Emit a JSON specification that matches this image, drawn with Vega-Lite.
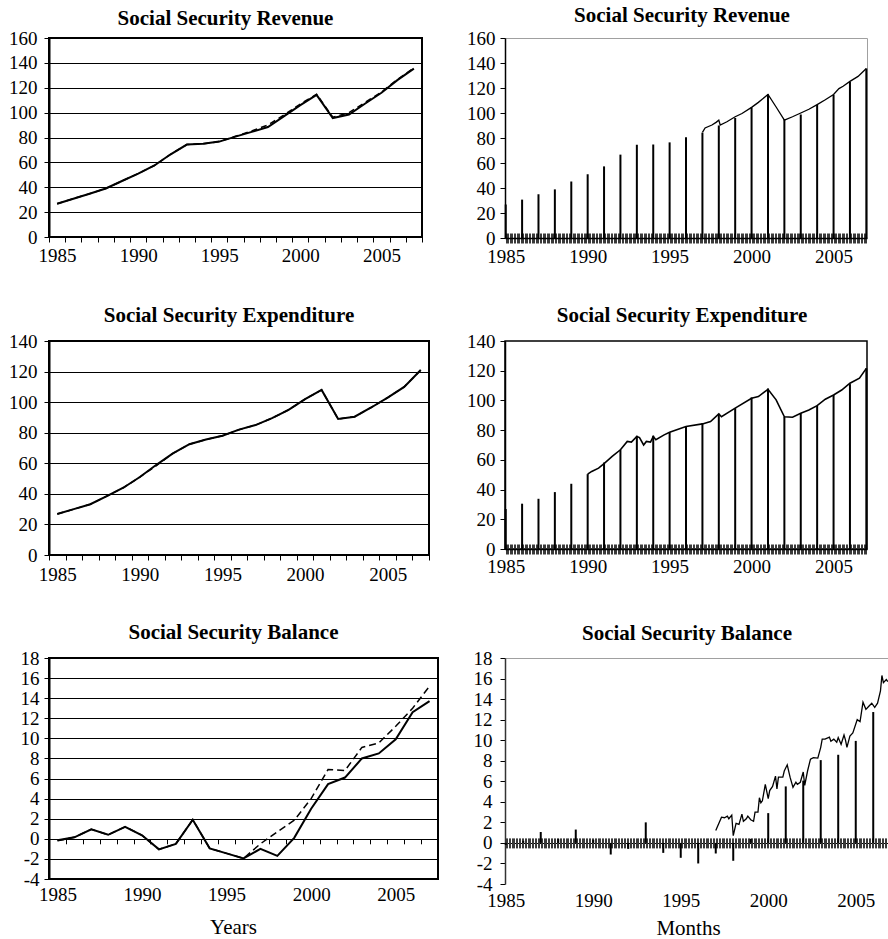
{
 "$schema": "https://vega.github.io/schema/vega-lite/v6.json",
 "padding": {"left": 4, "top": 4, "right": 0, "bottom": 0},
 "background": "white",
 "datasets": {
  "L1": [
   {"yr":1985,"s":26.7,"d":26.7},{"yr":1986,"s":30.8,"d":30.8},{"yr":1987,"s":34.8,"d":34.8},{"yr":1988,"s":39,"d":39},
   {"yr":1989,"s":45,"d":45},{"yr":1990,"s":51,"d":51},{"yr":1991,"s":57.5,"d":57.5},{"yr":1992,"s":66.5,"d":66.5},
   {"yr":1993,"s":74.3,"d":74.3},{"yr":1994,"s":75,"d":75},{"yr":1995,"s":76.7,"d":76.7},{"yr":1996,"s":80.7,"d":81},
   {"yr":1997,"s":84.5,"d":85.3},{"yr":1998,"s":88.4,"d":90},{"yr":1999,"s":97.2,"d":98.2},{"yr":2000,"s":106,"d":107},
   {"yr":2001,"s":114.3,"d":114.8},{"yr":2002,"s":95.6,"d":96.3},{"yr":2003,"s":98.5,"d":100},{"yr":2004,"s":107.3,"d":108.3},
   {"yr":2005,"s":116,"d":116.6},{"yr":2006,"s":126.3,"d":126.8},{"yr":2007,"s":135.4,"d":136}
  ],
  "L2": [
   {"yr":1985,"s":26.8,"d":26.8},{"yr":1986,"s":30,"d":30},{"yr":1987,"s":33.2,"d":33.2},{"yr":1988,"s":38.5,"d":38.5},
   {"yr":1989,"s":44,"d":44},{"yr":1990,"s":51,"d":51},{"yr":1991,"s":59,"d":58.5},{"yr":1992,"s":66.5,"d":66.5},
   {"yr":1993,"s":72.5,"d":72.5},{"yr":1994,"s":75.5,"d":75.5},{"yr":1995,"s":78,"d":78},{"yr":1996,"s":82,"d":82},
   {"yr":1997,"s":85,"d":85},{"yr":1998,"s":89.5,"d":89.5},{"yr":1999,"s":95,"d":95},{"yr":2000,"s":102,"d":102},
   {"yr":2001,"s":108,"d":108},{"yr":2002,"s":89,"d":89},{"yr":2003,"s":90.5,"d":90.5},{"yr":2004,"s":96.5,"d":96.5},
   {"yr":2005,"s":103,"d":103},{"yr":2006,"s":110,"d":110},{"yr":2007,"s":121,"d":121}
  ],
  "L3": [
   {"yr":1985,"s":-0.15,"d":-0.2},{"yr":1986,"s":0.15,"d":0.15},{"yr":1987,"s":0.95,"d":0.95},{"yr":1988,"s":0.4,"d":0.4},
   {"yr":1989,"s":1.2,"d":1.2},{"yr":1990,"s":0.35,"d":0.35},{"yr":1991,"s":-1.05,"d":-1.05},{"yr":1992,"s":-0.5,"d":-0.5},
   {"yr":1993,"s":1.9,"d":1.9},{"yr":1994,"s":-0.95,"d":-0.95},{"yr":1995,"s":-1.45,"d":-1.45},{"yr":1996,"s":-1.95,"d":-1.95},
   {"yr":1997,"s":-1.0,"d":-0.5},{"yr":1998,"s":-1.7,"d":0.7},{"yr":1999,"s":0.1,"d":1.85},{"yr":2000,"s":3.0,"d":4.0},
   {"yr":2001,"s":5.45,"d":6.9},{"yr":2002,"s":6.1,"d":6.8},{"yr":2003,"s":8.0,"d":9.1},{"yr":2004,"s":8.5,"d":9.55},
   {"yr":2005,"s":9.9,"d":11.2},{"yr":2006,"s":12.6,"d":13.0},{"yr":2007,"s":13.7,"d":15.2}
  ],
  "R1s": [
   {"t":"1985-01-01","v":26.8},{"t":"1986-01-01","v":30.7},{"t":"1987-01-01","v":35},{"t":"1988-01-01","v":38.9},
   {"t":"1989-01-01","v":45.2},{"t":"1990-01-01","v":51},{"t":"1991-01-01","v":57.3},{"t":"1992-01-01","v":66.7},
   {"t":"1993-01-01","v":74.6},{"t":"1994-01-01","v":74.8},{"t":"1995-01-01","v":76.5},{"t":"1996-01-01","v":80.7},
   {"t":"1997-01-01","v":84.3},{"t":"1998-01-01","v":90},{"t":"1999-01-01","v":96},{"t":"2000-01-01","v":104.5},
   {"t":"2001-01-01","v":115},{"t":"2002-01-01","v":95},{"t":"2003-01-01","v":98.8},{"t":"2004-01-01","v":106.7},
   {"t":"2005-01-01","v":114.6},{"t":"2006-01-01","v":125},{"t":"2007-01-01","v":135.6}
  ],
  "R1l": [
   {"t":"1997-01-01","v":84.5},{"t":"1997-03-01","v":88},{"t":"1997-08-01","v":90.4},{"t":"1997-11-01","v":92.5},
   {"t":"1998-01-01","v":94.3},{"t":"1998-02-01","v":90.4},{"t":"1998-07-01","v":93},{"t":"1999-01-01","v":97},
   {"t":"1999-06-01","v":99.6},{"t":"2000-01-01","v":104.5},{"t":"2000-06-01","v":108.5},{"t":"2001-01-01","v":114.8},
   {"t":"2001-07-01","v":104.8},{"t":"2002-01-01","v":94.3},{"t":"2002-07-01","v":97},{"t":"2003-01-01","v":100},
   {"t":"2003-07-01","v":103},{"t":"2004-01-01","v":106.7},{"t":"2004-07-01","v":110.6},{"t":"2005-01-01","v":114.8},
   {"t":"2005-05-01","v":119.5},{"t":"2005-08-01","v":121.4},{"t":"2006-01-01","v":125.3},{"t":"2006-07-01","v":129.3},
   {"t":"2007-01-01","v":135.6}
  ],
  "R2s": [
   {"t":"1985-01-01","v":26.9},{"t":"1986-01-01","v":30.5},{"t":"1987-01-01","v":33.8},{"t":"1988-01-01","v":38.3},
   {"t":"1989-01-01","v":43.9},{"t":"1990-01-01","v":50.4},{"t":"1991-01-01","v":58.2},{"t":"1992-01-01","v":66.8},
   {"t":"1993-01-01","v":76.2},{"t":"1994-01-01","v":76.2},{"t":"1995-01-01","v":78.6},{"t":"1996-01-01","v":82.4},
   {"t":"1997-01-01","v":84.7},{"t":"1998-01-01","v":91},{"t":"1999-01-01","v":94.8},{"t":"2000-01-01","v":102},
   {"t":"2001-01-01","v":108},{"t":"2002-01-01","v":89},{"t":"2003-01-01","v":91.4},{"t":"2004-01-01","v":96.5},
   {"t":"2005-01-01","v":103.7},{"t":"2006-01-01","v":111},{"t":"2007-01-01","v":121.6}
  ],
  "R2l": [
   {"t":"1990-01-01","v":50.4},{"t":"1990-04-01","v":52.2},{"t":"1990-09-01","v":54.4},{"t":"1991-01-01","v":57.5},
   {"t":"1991-07-01","v":62.3},{"t":"1992-01-01","v":66.8},{"t":"1992-06-01","v":72.4},{"t":"1992-09-01","v":72},
   {"t":"1993-01-01","v":75.7},{"t":"1993-03-01","v":75},{"t":"1993-06-01","v":70},{"t":"1993-08-01","v":72.4},
   {"t":"1993-11-01","v":72},{"t":"1994-01-01","v":75.7},{"t":"1994-03-01","v":73.5},{"t":"1994-09-01","v":76.8},
   {"t":"1995-01-01","v":78.6},{"t":"1996-01-01","v":82.4},{"t":"1997-01-01","v":84.2},{"t":"1997-07-01","v":85.8},
   {"t":"1998-01-01","v":91},{"t":"1998-03-01","v":89},{"t":"1999-01-01","v":94.8},{"t":"2000-01-01","v":101.5},
   {"t":"2000-06-01","v":102.6},{"t":"2001-01-01","v":107.5},{"t":"2001-07-01","v":100.4},{"t":"2002-01-01","v":89},
   {"t":"2002-07-01","v":88.7},{"t":"2003-01-01","v":91.4},{"t":"2003-07-01","v":93.6},{"t":"2004-01-01","v":96.5},
   {"t":"2004-07-01","v":100.8},{"t":"2005-01-01","v":103.7},{"t":"2005-07-01","v":107},{"t":"2006-01-01","v":111.6},
   {"t":"2006-08-01","v":115},{"t":"2007-01-01","v":121.6}
  ],
  "R3s": [
   {"t":"1985-01-01","v":-0.2},{"t":"1986-01-01","v":0.2},{"t":"1987-01-01","v":1.06},{"t":"1988-01-01","v":0.4},
   {"t":"1989-01-01","v":1.3},{"t":"1990-01-01","v":0.3},{"t":"1991-01-01","v":-1.13},{"t":"1992-01-01","v":-0.58},
   {"t":"1993-01-01","v":2.0},{"t":"1994-01-01","v":-0.97},{"t":"1995-01-01","v":-1.45},{"t":"1996-01-01","v":-2.0},
   {"t":"1997-01-01","v":-1.03},{"t":"1998-01-01","v":-1.74},{"t":"1999-01-01","v":0.4},{"t":"2000-01-01","v":2.9},
   {"t":"2001-01-01","v":5.5},{"t":"2002-01-01","v":6.06},{"t":"2003-01-01","v":8.06},{"t":"2004-01-01","v":8.58},
   {"t":"2005-01-01","v":9.93},{"t":"2006-01-01","v":12.74}
  ],
  "R3l": [
   {"t":"1997-01-01","v":1.2},{"t":"1997-05-01","v":2.5},{"t":"1997-07-01","v":2.45},{"t":"1997-09-01","v":2.6},
   {"t":"1997-10-01","v":2.35},{"t":"1997-12-01","v":2.7},{"t":"1998-01-01","v":0.7},{"t":"1998-03-01","v":1.9},
   {"t":"1998-05-01","v":1.8},{"t":"1998-07-01","v":2.8},{"t":"1998-08-01","v":2.1},{"t":"1998-10-01","v":2.35},
   {"t":"1998-11-01","v":2.6},{"t":"1999-01-01","v":2.26},{"t":"1999-03-01","v":2.1},{"t":"1999-04-01","v":3.0},
   {"t":"1999-06-01","v":3.0},{"t":"1999-07-01","v":4.4},{"t":"1999-08-01","v":3.9},{"t":"1999-09-01","v":4.1},
   {"t":"1999-11-01","v":5.7},{"t":"2000-01-01","v":4.3},{"t":"2000-02-01","v":5.1},{"t":"2000-04-01","v":5.5},
   {"t":"2000-06-01","v":6.5},{"t":"2000-07-01","v":5.26},{"t":"2000-08-01","v":6.4},{"t":"2000-11-01","v":6.4},
   {"t":"2000-12-01","v":7.0},{"t":"2001-02-01","v":7.6},{"t":"2001-04-01","v":6.4},{"t":"2001-06-01","v":5.4},
   {"t":"2001-08-01","v":5.9},{"t":"2001-09-01","v":5.7},{"t":"2001-11-01","v":5.9},{"t":"2002-01-01","v":6.9},
   {"t":"2002-02-01","v":5.6},{"t":"2002-04-01","v":7.0},{"t":"2002-06-01","v":8.16},{"t":"2002-08-01","v":8.3},
   {"t":"2002-11-01","v":8.26},{"t":"2003-01-01","v":9.3},{"t":"2003-02-01","v":10.1},{"t":"2003-04-01","v":10.1},
   {"t":"2003-07-01","v":10.3},{"t":"2003-08-01","v":9.9},{"t":"2003-10-01","v":10.1},{"t":"2003-12-01","v":9.8},
   {"t":"2004-01-01","v":10.25},{"t":"2004-03-01","v":9.6},{"t":"2004-05-01","v":10.5},{"t":"2004-06-01","v":10.0},
   {"t":"2004-07-01","v":9.3},{"t":"2004-09-01","v":10.4},{"t":"2004-11-01","v":10.7},{"t":"2005-02-01","v":12.0},
   {"t":"2005-04-01","v":11.8},{"t":"2005-06-01","v":13.7},{"t":"2005-08-01","v":13.0},{"t":"2005-10-01","v":13.3},
   {"t":"2005-12-01","v":13.6},{"t":"2006-02-01","v":13.2},{"t":"2006-04-01","v":13.6},{"t":"2006-06-01","v":14.8},
   {"t":"2006-07-01","v":16.3},{"t":"2006-08-01","v":15.6},{"t":"2006-10-01","v":15.9},{"t":"2006-11-01","v":15.7}
  ]
 },
 "bounds": "flush",
 "align": "each",
 "columns": 2,
 "spacing": {"row": 103, "column": 67},
 "concat": [
  {
   "width": 373, "height": 199,
   "title": {"text": "Social Security Revenue", "dx": -10, "offset": 0},
   "view": {"stroke": "#000", "strokeWidth": 2},
   "data": {"name": "L1"},
   "transform": [{"fold": ["s", "d"], "as": ["k", "v"]}],
   "encoding": {
    "y": {"field": "v", "type": "quantitative", "scale": {"domain": [0, 160], "nice": false},
          "axis": {"values": [0, 20, 40, 60, 80, 100, 120, 140, 160], "grid": true, "gridColor": "#000", "gridWidth": 1, "tickSize": 5, "domainWidth": 2, "labelPadding": 7, "title": null}}
   },
   "layer": [
    {"transform": [{"filter": "datum.k === 's'"}],
     "mark": {"type": "line", "color": "#000", "strokeWidth": 2},
     "encoding": {
      "x": {"field": "yr", "type": "quantitative", "scale": {"domain": [1984.5, 2007.5], "nice": false, "zero": false},
            "axis": {"orient": "bottom", "values": [1985, 1990, 1995, 2000, 2005], "format": "d", "ticks": false, "tickSize": 0, "domain": false, "labelPadding": 9, "title": null}}
     }},
    {"transform": [{"filter": "datum.k === 'd'"}],
     "mark": {"type": "line", "color": "#000", "strokeWidth": 1.5, "strokeDash": [6, 4]},
     "encoding": {
      "x": {"field": "yr", "type": "quantitative",
            "axis": {"orient": "bottom", "values": [1984.5,1985.5,1986.5,1987.5,1988.5,1989.5,1990.5,1991.5,1992.5,1993.5,1994.5,1995.5,1996.5,1997.5,1998.5,1999.5,2000.5,2001.5,2002.5,2003.5,2004.5,2005.5,2006.5,2007.5], "labels": false, "tickSize": 5, "domain": false, "title": null}}
     }}
   ],
   "resolve": {"axis": {"x": "independent"}}
  },
  {
   "width": 362, "height": 200,
   "title": {"text": "Social Security Revenue", "dx": -4, "offset": 3},
   "view": {"stroke": "#a0a0a0", "strokeWidth": 1},
   "encoding": {
    "y": {"field": "v", "type": "quantitative", "scale": {"domain": [0, 160], "nice": false},
          "axis": {"values": [0, 20, 40, 60, 80, 100, 120, 140, 160], "tickSize": 5, "domainWidth": 1.5, "labelPadding": 5, "title": null}}
   },
   "layer": [
    {"data": {"name": "R1s"},
     "mark": {"type": "rule", "color": "#000", "strokeWidth": 2},
     "encoding": {
      "x": {"field": "t", "type": "temporal",
            "scale": {"type": "utc", "domain": [{"year": 1984, "month": 12, "date": 16, "utc": true}, {"year": 2007, "month": 1, "date": 16, "utc": true}]},
            "axis": {"orient": "bottom", "tickCount": {"interval": "month", "step": 1}, "labels": false, "tickSize": 10, "tickColor": "#3a3a3a", "tickWidth": 1, "domain": false, "offset": -5, "title": null}},
      "y2": {"datum": 0}
     }},
    {"data": {"name": "R1l"},
     "mark": {"type": "line", "color": "#000", "strokeWidth": 1.3},
     "encoding": {
      "x": {"field": "t", "type": "temporal",
            "axis": {"orient": "bottom", "values": [{"year": 1985, "utc": true}, {"year": 1990, "utc": true}, {"year": 1995, "utc": true}, {"year": 2000, "utc": true}, {"year": 2005, "utc": true}], "format": "%Y", "ticks": false, "tickSize": 0, "domain": true, "domainWidth": 1.5, "labelPadding": 9, "title": null}}
     }}
   ],
   "resolve": {"axis": {"x": "independent"}}
  },
  {
   "width": 380, "height": 214,
   "title": {"text": "Social Security Expenditure", "dx": -10, "offset": 6},
   "view": {"stroke": "#000", "strokeWidth": 2},
   "data": {"name": "L2"},
   "transform": [{"fold": ["s", "d"], "as": ["k", "v"]}],
   "encoding": {
    "y": {"field": "v", "type": "quantitative", "scale": {"domain": [0, 140], "nice": false},
          "axis": {"values": [0, 20, 40, 60, 80, 100, 120, 140], "grid": true, "gridColor": "#000", "gridWidth": 1, "tickSize": 5, "domainWidth": 2, "labelPadding": 7, "title": null}}
   },
   "layer": [
    {"transform": [{"filter": "datum.k === 's'"}],
     "mark": {"type": "line", "color": "#000", "strokeWidth": 2},
     "encoding": {
      "x": {"field": "yr", "type": "quantitative", "scale": {"domain": [1984.5, 2007.5], "nice": false, "zero": false},
            "axis": {"orient": "bottom", "values": [1985, 1990, 1995, 2000, 2005], "format": "d", "ticks": false, "tickSize": 0, "domain": false, "labelPadding": 10, "title": null}}
     }},
    {"transform": [{"filter": "datum.k === 'd'"}],
     "mark": {"type": "line", "color": "#000", "strokeWidth": 1.5, "strokeDash": [6, 4]},
     "encoding": {
      "x": {"field": "yr", "type": "quantitative",
            "axis": {"orient": "bottom", "values": [1984.5,1985.5,1986.5,1987.5,1988.5,1989.5,1990.5,1991.5,1992.5,1993.5,1994.5,1995.5,1996.5,1997.5,1998.5,1999.5,2000.5,2001.5,2002.5,2003.5,2004.5,2005.5,2006.5,2007.5], "labels": false, "tickSize": 5, "domain": false, "title": null}}
     }}
   ],
   "resolve": {"axis": {"x": "independent"}}
  },
  {
   "width": 362, "height": 208,
   "title": {"text": "Social Security Expenditure", "dx": -4, "offset": 6},
   "view": {"stroke": "#000", "strokeWidth": 1.5},
   "encoding": {
    "y": {"field": "v", "type": "quantitative", "scale": {"domain": [0, 140], "nice": false},
          "axis": {"values": [0, 20, 40, 60, 80, 100, 120, 140], "tickSize": 5, "domainWidth": 1.5, "labelPadding": 5, "title": null}}
   },
   "layer": [
    {"data": {"name": "R2s"},
     "mark": {"type": "rule", "color": "#000", "strokeWidth": 2},
     "encoding": {
      "x": {"field": "t", "type": "temporal",
            "scale": {"type": "utc", "domain": [{"year": 1984, "month": 12, "date": 16, "utc": true}, {"year": 2007, "month": 1, "date": 16, "utc": true}]},
            "axis": {"orient": "bottom", "tickCount": {"interval": "month", "step": 1}, "labels": false, "tickSize": 10, "tickColor": "#3a3a3a", "tickWidth": 1, "domain": false, "offset": -5, "title": null}},
      "y2": {"datum": 0}
     }},
    {"data": {"name": "R2l"},
     "mark": {"type": "line", "color": "#000", "strokeWidth": 1.6},
     "encoding": {
      "x": {"field": "t", "type": "temporal",
            "axis": {"orient": "bottom", "values": [{"year": 1985, "utc": true}, {"year": 1990, "utc": true}, {"year": 1995, "utc": true}, {"year": 2000, "utc": true}, {"year": 2005, "utc": true}], "format": "%Y", "ticks": false, "tickSize": 0, "domain": true, "domainWidth": 1.5, "labelPadding": 8, "title": null}}
     }}
   ],
   "resolve": {"axis": {"x": "independent"}}
  },
  {
   "width": 389, "height": 221,
   "title": {"text": "Social Security Balance", "dx": -10, "offset": 6},
   "view": {"stroke": "#000", "strokeWidth": 2},
   "data": {"name": "L3"},
   "transform": [{"fold": ["s", "d"], "as": ["k", "v"]}],
   "encoding": {
    "y": {"field": "v", "type": "quantitative", "scale": {"domain": [-4, 18], "nice": false, "zero": false},
          "axis": {"values": [-4, -2, 0, 2, 4, 6, 8, 10, 12, 14, 16, 18], "labelExpr": "'' + datum.value", "grid": true, "gridColor": "#000", "gridWidth": 1, "tickSize": 5, "domainWidth": 2, "labelPadding": 5, "title": null}}
   },
   "layer": [
    {"transform": [{"filter": "datum.k === 's'"}],
     "mark": {"type": "line", "color": "#000", "strokeWidth": 2},
     "encoding": {
      "x": {"field": "yr", "type": "quantitative", "scale": {"domain": [1984.5, 2007.5], "nice": false, "zero": false},
            "axis": {"orient": "bottom", "values": [1985, 1990, 1995, 2000, 2005], "format": "d", "ticks": false, "tickSize": 0, "domain": false, "labelPadding": 6, "title": "Years", "titlePadding": 12, "titleX": 184}}
     }},
    {"transform": [{"filter": "datum.k === 'd'"}],
     "mark": {"type": "line", "color": "#000", "strokeWidth": 1.5, "strokeDash": [7, 4]},
     "encoding": {
      "x": {"field": "yr", "type": "quantitative",
            "axis": {"orient": "bottom", "values": [1984.5,1985.5,1986.5,1987.5,1988.5,1989.5,1990.5,1991.5,1992.5,1993.5,1994.5,1995.5,1996.5,1997.5,1998.5,1999.5,2000.5,2001.5,2002.5,2003.5,2004.5,2005.5,2006.5,2007.5], "labels": false, "tickSize": 5, "domain": false, "offset": -40.2, "title": null}}
     }}
   ],
   "resolve": {"axis": {"x": "independent"}}
  },
  {
   "width": 384, "height": 226,
   "title": {"text": "Social Security Balance", "dx": -10, "offset": 5},
   "encoding": {
    "y": {"field": "v", "type": "quantitative", "scale": {"domain": [-4, 18], "nice": false, "zero": false},
          "axis": {"values": [-4, -2, 0, 2, 4, 6, 8, 10, 12, 14, 16, 18], "labelExpr": "'' + datum.value", "tickSize": 5, "domainWidth": 1.5, "domainColor": "#333", "labelPadding": 8, "title": null,
                   "grid": true, "gridWidth": 1,
                   "gridColor": {"condition": {"test": "datum.value === 0", "value": "#000"}, "value": "#a0a0a0"},
                   "gridOpacity": {"condition": {"test": "datum.value === 0 || datum.value === 18", "value": 1}, "value": 0}}}
   },
   "layer": [
    {"data": {"name": "R3s"},
     "mark": {"type": "rule", "color": "#000", "strokeWidth": 2},
     "encoding": {
      "x": {"field": "t", "type": "temporal",
            "scale": {"type": "utc", "domain": [{"year": 1984, "month": 12, "date": 16, "utc": true}, {"year": 2006, "month": 11, "date": 26, "utc": true}]},
            "axis": {"orient": "bottom", "tickCount": {"interval": "month", "step": 1}, "labels": false, "tickSize": 10, "tickColor": "#3a3a3a", "tickWidth": 1, "domain": false, "offset": -46.1, "title": null}},
      "y2": {"datum": 0}
     }},
    {"data": {"name": "R3l"},
     "mark": {"type": "line", "color": "#000", "strokeWidth": 1.3, "clip": true},
     "encoding": {
      "x": {"field": "t", "type": "temporal",
            "axis": {"orient": "bottom", "values": [{"year": 1985, "utc": true}, {"year": 1990, "utc": true}, {"year": 1995, "utc": true}, {"year": 2000, "utc": true}, {"year": 2005, "utc": true}], "format": "%Y", "ticks": false, "tickSize": 0, "domain": false, "labelPadding": 7, "title": "Months", "titlePadding": 7, "titleX": 183}}
     }}
   ],
   "resolve": {"axis": {"x": "independent"}}
  }
 ],
 "config": {
  "view": {"stroke": null},
  "font": "Liberation Serif",
  "title": {"font": "Liberation Serif", "fontSize": 21, "fontWeight": "bold", "color": "#000", "anchor": "middle"},
  "axis": {"labelFont": "Liberation Serif", "labelFontSize": 19, "labelColor": "#000", "titleFont": "Liberation Serif", "titleFontSize": 21, "titleFontWeight": "normal", "titleColor": "#000", "tickColor": "#000", "domainColor": "#000", "grid": false, "labelFlush": false, "labelBound": false, "labelOverlap": false},
  "axisY": {"minExtent": 44, "maxExtent": 44}
 }
}
